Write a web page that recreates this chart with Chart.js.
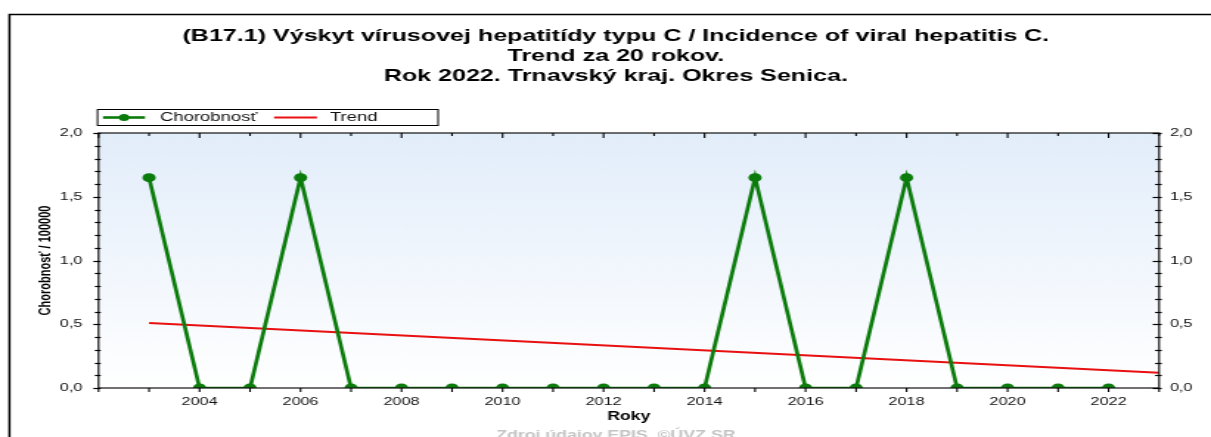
<!DOCTYPE html>
<html>
<head>
<meta charset="utf-8">
<script src="https://cdn.jsdelivr.net/npm/chart.js@4/dist/chart.umd.min.js"></script>
<style>
  html, body { margin: 0; padding: 0; background: #fff; overflow: hidden; }
  /* the source picture is a narrower chart stretched sideways, so draw narrow and stretch */
  #wrap { width: 821px; height: 437px; transform: scaleX(1.47503); transform-origin: 0 0; }
</style>
</head>
<body>
<div id="wrap"><canvas id="chart" width="821" height="437"></canvas></div>
<script>
// Roky (x) a hodnoty
var years = [2003, 2004, 2005, 2006, 2007, 2008, 2009, 2010, 2011, 2012,
             2013, 2014, 2015, 2016, 2017, 2018, 2019, 2020, 2021, 2022];
var chorobnost = [1.65, 0, 0, 1.65, 0, 0, 0, 0, 0, 0,
                  0, 0, 1.65, 0, 0, 1.65, 0, 0, 0, 0];
// trend - priamka, koncove body odcitane z obrazku
var trendYears = [2003, 2023];
var trendValues = [0.51, 0.12];

var titleLines = [
    '(B17.1) Výskyt vírusovej hepatitídy typu C / Incidence of viral hepatitis C.',
    'Trend za 20 rokov.',
    'Rok 2022. Trnavský kraj. Okres Senica.'
];
var footer = 'Zdroj údajov EPIS, ©ÚVZ SR';

var green = '#0b7b0b';
var red = '#e81010';
var FONT = "'Liberation Sans', Arial, sans-serif";

function yLabel(v) {
    return Math.round(v * 10) % 5 === 0 ? v.toFixed(1).replace('.', ',') : '';
}

function line(ctx, x1, y1, x2, y2) {
    ctx.beginPath();
    ctx.moveTo(x1, y1);
    ctx.lineTo(x2, y2);
    ctx.stroke();
}

// pozadie, ramy, ciarky na osiach, legenda, zdroj
var framePlugin = {
    id: 'frame',
    beforeDraw: function (chart) {
        var ctx = chart.ctx, a = chart.chartArea;
        var g = ctx.createLinearGradient(0, a.top, 0, a.bottom);
        g.addColorStop(0, '#e2edfa');
        g.addColorStop(1, '#ffffff');
        ctx.save();
        ctx.fillStyle = g;
        ctx.fillRect(a.left, a.top, a.right - a.left, a.bottom - a.top);
        ctx.restore();
    },
    afterDraw: function (chart) {
        var ctx = chart.ctx, a = chart.chartArea;
        var sx = chart.scales.x, sy = chart.scales.y;
        ctx.save();

        // vonkajsi ram
        ctx.strokeStyle = '#000';
        ctx.lineWidth = 1.5;
        ctx.beginPath();
        ctx.moveTo(6.4, chart.height);
        ctx.lineTo(6.4, 14.5);
        ctx.lineTo(chart.width, 14.5);
        ctx.stroke();

        // ram grafu
        ctx.strokeStyle = '#111';
        ctx.lineWidth = 1.2;
        ctx.strokeRect(a.left, a.top, a.right - a.left, a.bottom - a.top);

        // ciarky
        ctx.strokeStyle = '#000';
        ctx.lineWidth = 1.1;
        sx.ticks.forEach(function (t) {
            var px = sx.getPixelForValue(t.value);
            var major = t.value % 2 === 0;
            line(ctx, px, a.bottom, px, a.bottom + 4);
            line(ctx, px, a.top, px, a.top + (major ? 5 : 3));
        });
        ctx.lineWidth = 1.2;
        sy.ticks.forEach(function (t) {
            var py = Math.round(sy.getPixelForValue(t.value)) + 0.5;
            var major = Math.round(t.value * 10) % 5 === 0;
            line(ctx, a.left - (major ? 3.5 : 2.5), py, a.left + 1.5, py);
            line(ctx, a.right - (major ? 4.3 : 2.7), py, a.right + 1.8, py);
        });

        // legenda
        var ds = chart.data.datasets;
        var ly = 117.5;
        ctx.fillStyle = '#fff';
        ctx.fillRect(66.1, 109.5, 230.9, 16);
        ctx.strokeStyle = '#000';
        ctx.lineWidth = 1;
        ctx.strokeRect(66.1, 109.5, 230.9, 16);
        ctx.strokeStyle = ds[0].borderColor;
        ctx.lineWidth = 2.6;
        line(ctx, 69.8, ly, 98.3, ly);
        ctx.fillStyle = ds[0].borderColor;
        ctx.beginPath();
        ctx.arc(84.1, ly, 3.5, 0, Math.PI * 2);
        ctx.fill();
        ctx.strokeStyle = ds[1].borderColor;
        ctx.lineWidth = 2;
        line(ctx, 185.8, ly, 214.9, ly);
        ctx.fillStyle = '#111';
        ctx.font = '12.5px ' + FONT;
        ctx.textBaseline = 'middle';
        ctx.textAlign = 'left';
        ctx.fillText(ds[0].label, 108.5, ly);
        ctx.fillText(ds[1].label, 223.7, ly);

        // zdroj
        ctx.fillStyle = '#c4c4c4';
        ctx.font = 'bold 12px ' + FONT;
        ctx.textAlign = 'center';
        ctx.textBaseline = 'alphabetic';
        ctx.fillText(footer, (chart.options.layout.padding.left + chart.width) / 2, 439);
        ctx.restore();
    }
};

var ctx = document.getElementById('chart').getContext('2d');
var chart = new Chart(ctx, {
    type: 'line',
    data: {
        datasets: [
            {
                label: 'Chorobnosť',
                data: years.map(function (y, i) { return {x: y, y: chorobnost[i]}; }),
                borderColor: green,
                backgroundColor: green,
                borderWidth: 2.7,
                pointRadius: 4.5,
                pointBorderWidth: 0,
                pointBackgroundColor: green,
                tension: 0,
                fill: false,
                clip: {left: 8, top: 8, right: 8, bottom: 0}
            },
            {
                label: 'Trend',
                data: trendYears.map(function (y, i) { return {x: y, y: trendValues[i]}; }),
                borderColor: red,
                backgroundColor: red,
                borderWidth: 2,
                pointRadius: 0,
                tension: 0,
                fill: false
            }
        ]
    },
    plugins: [framePlugin],
    options: {
        responsive: false,
        animation: false,
        devicePixelRatio: 1,
        events: [],
        layout: { padding: { left: 14, top: 0, right: 0, bottom: 0 } },
        plugins: {
            legend: { display: false },
            tooltip: { enabled: false },
            title: {
                display: true,
                text: titleLines,
                color: '#000',
                font: { family: FONT, size: 17, weight: 'bold', lineHeight: 20 / 17 },
                padding: { top: 26.5, bottom: 46.5 }
            }
        },
        scales: {
            x: {
                type: 'linear',
                min: 2002,
                max: 2023,
                grid: { display: false, drawTicks: false },
                border: { display: false },
                ticks: {
                    stepSize: 1,
                    autoSkip: false,
                    maxRotation: 0,
                    maxTicksLimit: 50,
                    padding: 7,
                    color: '#111',
                    font: { family: FONT, size: 11 },
                    callback: function (v) { return (v % 2 === 0 && v !== 2002) ? String(v) : ''; }
                },
                title: {
                    display: true,
                    text: 'Roky',
                    color: '#000',
                    font: { family: FONT, size: 12, weight: 'bold' },
                    padding: { top: 0, bottom: 12.8 }
                },
                afterFit: function (s) { s.height = 49; }
            },
            y: {
                position: 'left',
                min: 0,
                max: 2,
                grid: { display: false, drawTicks: false },
                border: { display: false },
                ticks: {
                    stepSize: 0.1,
                    autoSkip: false,
                    maxTicksLimit: 50,
                    padding: 11,
                    color: '#111',
                    font: { family: FONT, size: 11 },
                    callback: yLabel
                },
                title: {
                    display: true,
                    text: 'Chorobnosť / 100000',
                    color: '#000',
                    font: { family: FONT, size: 11, weight: 'bold' },
                    padding: { top: 10.6, bottom: 0 }
                },
                afterFit: function (s) { s.width = 52.8; }
            },
            y2: {
                position: 'right',
                min: 0,
                max: 2,
                grid: { display: false, drawTicks: false },
                border: { display: false },
                ticks: {
                    stepSize: 0.1,
                    autoSkip: false,
                    maxTicksLimit: 50,
                    padding: 7.4,
                    color: '#111',
                    font: { family: FONT, size: 11 },
                    callback: yLabel
                },
                afterFit: function (s) { s.width = 35.2; }
            }
        }
    }
});
</script>
</body>
</html>
